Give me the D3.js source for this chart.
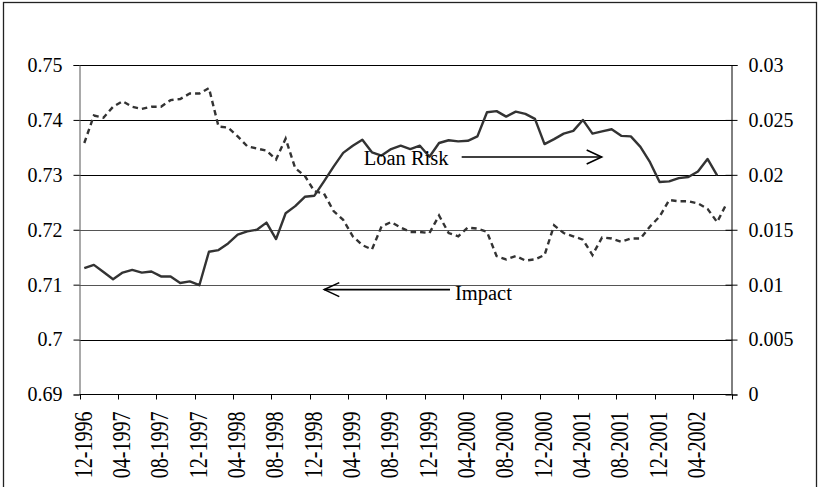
<!DOCTYPE html>
<html>
<head>
<meta charset="utf-8">
<script src="https://cdn.jsdelivr.net/npm/d3@7"></script>
<style>
  html, body { margin: 0; padding: 0; background: #fff; }
  svg { display: block; }
  text { font-family: "Liberation Serif", "Times New Roman", serif; fill: #000; }
</style>
</head>
<body>
<svg id="chart" width="820" height="487"></svg>
<script>
// ---- Data ----
const months = [
  "12-1996","01-1997","02-1997","03-1997","04-1997","05-1997","06-1997","07-1997",
  "08-1997","09-1997","10-1997","11-1997","12-1997","01-1998","02-1998","03-1998",
  "04-1998","05-1998","06-1998","07-1998","08-1998","09-1998","10-1998","11-1998",
  "12-1998","01-1999","02-1999","03-1999","04-1999","05-1999","06-1999","07-1999",
  "08-1999","09-1999","10-1999","11-1999","12-1999","01-2000","02-2000","03-2000",
  "04-2000","05-2000","06-2000","07-2000","08-2000","09-2000","10-2000","11-2000",
  "12-2000","01-2001","02-2001","03-2001","04-2001","05-2001","06-2001","07-2001",
  "08-2001","09-2001","10-2001","11-2001","12-2001","01-2002","02-2002","03-2002",
  "04-2002","05-2002","06-2002","07-2002"
];

// Impact (solid line, left axis)
const impact = [
  0.7130,0.7136,0.7123,0.7110,0.7122,0.7127,0.7122,0.7124,
  0.7115,0.7115,0.7103,0.7106,0.7099,0.7160,0.7163,0.7175,
  0.7191,0.7197,0.7200,0.7213,0.7183,0.7230,0.7243,0.7260,
  0.7262,0.7288,0.7315,0.7340,0.7353,0.7364,0.7341,0.7335,
  0.7347,0.7353,0.7347,0.7353,0.7333,0.7358,0.7363,0.7361,
  0.7362,0.7370,0.7414,0.7416,0.7406,0.7415,0.7411,0.7402,
  0.7356,0.7365,0.7375,0.7380,0.7400,0.7375,0.7379,0.7383,
  0.7371,0.7370,0.7351,0.7323,0.7287,0.7288,0.7294,0.7296,
  0.7306,0.7329,0.7299
];

// Loan Risk (dashed line, right axis)
const loanRisk = [
  0.0229,0.0254,0.0252,0.0262,0.0267,0.0262,0.0260,0.0262,
  0.0262,0.0268,0.0269,0.0274,0.0274,0.0279,0.0244,0.0243,
  0.0235,0.0226,0.0224,0.0222,0.0214,0.0233,0.0206,0.0199,
  0.0185,0.0183,0.0167,0.0159,0.0144,0.0136,0.0132,0.0153,
  0.0157,0.0152,0.0148,0.0148,0.0147,0.0163,0.0147,0.0144,
  0.0152,0.0151,0.0148,0.0126,0.0123,0.0126,0.0122,0.0123,
  0.0127,0.0154,0.0147,0.0144,0.0141,0.0127,0.0143,0.0142,
  0.0139,0.0142,0.0142,0.0153,0.0162,0.0177,0.0176,0.0176,
  0.0174,0.0169,0.0157,0.0174
];

const leftTicks = [0.69, 0.70, 0.71, 0.72, 0.73, 0.74, 0.75];
const leftTickLabels = ["0.69","0.7","0.71","0.72","0.73","0.74","0.75"];
const rightTicks = [0, 0.005, 0.01, 0.015, 0.02, 0.025, 0.03];
const rightTickLabels = ["0","0.005","0.01","0.015","0.02","0.025","0.03"];
const labelEvery = 4;

// ---- Layout ----
const svg = d3.select("#chart");
const L = 79.5, R = 731.5, T = 65, B = 394.5;

const x = d3.scaleBand().domain(months).range([L, R]).padding(0);
const bw = x.bandwidth();
const xc = m => x(m) + bw / 2;
const xFrac = k => L + k * bw; // fractional category position
const yL = d3.scaleLinear().domain([0.69, 0.75]).range([B, T]);
const yR = d3.scaleLinear().domain([0, 0.03]).range([B, T]);

// outer border
svg.append("rect").attr("x", 3.5).attr("y", 2.5).attr("width", 813).attr("height", 495)
  .attr("fill", "none").attr("stroke", "#222").attr("stroke-width", 1.3);

// gridlines
svg.append("g").selectAll("line").data(leftTicks.slice(1)).join("line")
  .attr("x1", L).attr("x2", R)
  .attr("y1", d => Math.round(yL(d)) + 0.5).attr("y2", d => Math.round(yL(d)) + 0.5)
  .attr("stroke", (d, i) => (i === 1 || i === 2) ? "#555" : "#000").attr("stroke-width", 1);

// left axis
const gL = svg.append("g").attr("transform", `translate(${L},0)`)
  .call(d3.axisLeft(yL).tickValues(leftTicks).tickSize(6)
    .tickFormat((d, i) => leftTickLabels[i]).tickPadding(11));
gL.select(".domain").attr("stroke", "#555");
gL.selectAll(".tick line").attr("stroke", "#000");
gL.selectAll("text").attr("font-size", 20).attr("font-family", "Liberation Serif");

// right axis
const gR = svg.append("g").attr("transform", `translate(${R},0)`)
  .call(d3.axisRight(yR).tickValues(rightTicks).tickSize(6)
    .tickFormat((d, i) => rightTickLabels[i]).tickPadding(11));
gR.select(".domain").attr("stroke", "#000");
gR.selectAll(".tick line").attr("x1", -6).attr("stroke", "#000");
gR.selectAll("text").attr("font-size", 20).attr("font-family", "Liberation Serif");

// bottom axis
const tickCats = months.filter((m, i) => i % labelEvery === 0);
const gB = svg.append("g");
gB.append("line").attr("x1", L).attr("x2", R).attr("y1", B).attr("y2", B)
  .attr("stroke", "#000");
const tickXs = tickCats.map(m => x(m)).concat([R]);
gB.selectAll("line.tk").data(tickXs).join("line").attr("class", "tk")
  .attr("x1", d => Math.round(d) + 0.5).attr("x2", d => Math.round(d) + 0.5)
  .attr("y1", B).attr("y2", B + 5).attr("stroke", "#000");
gB.selectAll("text").data(tickCats).join("text")
  .attr("transform", m => `translate(${x(m) + 12},${B + 17}) rotate(-90) scale(1,1.25)`)
  .attr("text-anchor", "end")
  .attr("font-size", 20).text(m => m);

// lines
const lineL = d3.line().x((d, i) => xc(months[i])).y(d => yL(d));
const lineR = d3.line().x((d, i) => xc(months[i])).y(d => yR(d));

svg.append("path").datum(loanRisk).attr("d", lineR)
  .attr("fill", "none").attr("stroke", "#333").attr("stroke-width", 2.4)
  .attr("stroke-dasharray", "5.5,4");
svg.append("path").datum(impact).attr("d", lineL)
  .attr("fill", "none").attr("stroke", "#333").attr("stroke-width", 2.4)
  .attr("stroke-linejoin", "round");

// annotations
function arrow(x1, x2, y) {
  const dir = Math.sign(x2 - x1);
  const g = svg.append("g").attr("stroke", "#000").attr("fill", "none").attr("stroke-width", 1.6);
  g.append("line").attr("x1", x1).attr("x2", x2).attr("y1", y).attr("y2", y);
  g.append("path").attr("d", `M${x2 - dir * 15},${y - 7} L${x2},${y} L${x2 - dir * 15},${y + 7}`);
}
arrow(xFrac(39.86), xFrac(54.46), yL(0.73325));
svg.append("text").attr("x", xFrac(29.64)).attr("y", yL(0.7318)).attr("font-size", 20.5).text("Loan Risk");

arrow(xFrac(38.64), xFrac(25.53), yL(0.70910));
svg.append("text").attr("x", xFrac(39.16)).attr("y", yL(0.70715)).attr("font-size", 20.5).text("Impact");
</script>
</body>
</html>
